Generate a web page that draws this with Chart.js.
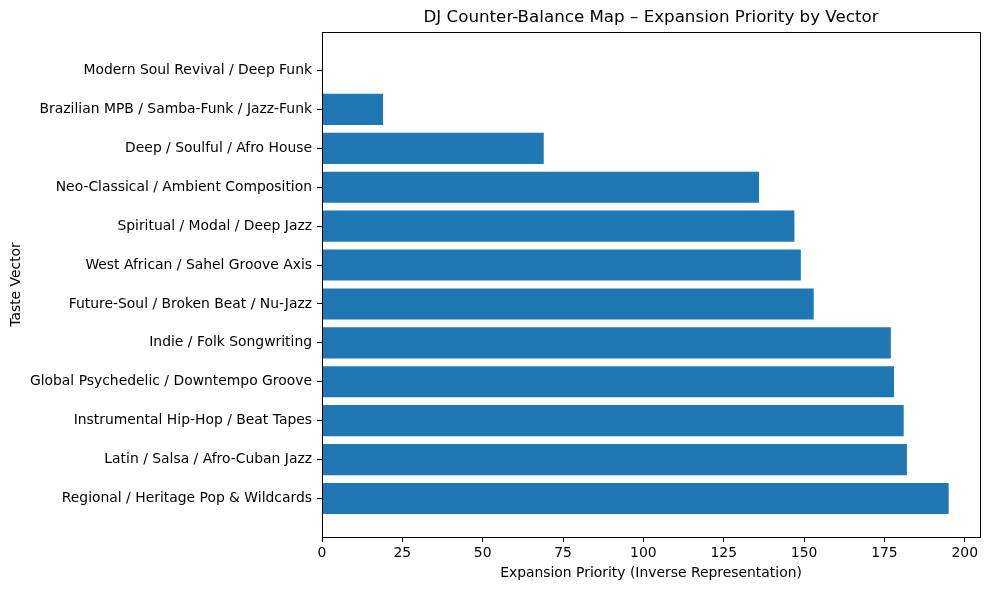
<!DOCTYPE html>
<html>
<head>
<meta charset="utf-8">
<script src="https://cdn.jsdelivr.net/npm/chart.js@4.4.1/dist/chart.umd.min.js"></script>
<style>
  html, body { margin: 0; padding: 0; background: #fff; }
  #wrap { width: 989px; height: 590px; }
</style>
</head>
<body>
<div id="wrap"><canvas id="chartCanvas" width="989" height="590"></canvas></div>
<script>
// categories, top to bottom as shown
const categories = [
  "Modern Soul Revival / Deep Funk",
  "Brazilian MPB / Samba-Funk / Jazz-Funk",
  "Deep / Soulful / Afro House",
  "Neo-Classical / Ambient Composition",
  "Spiritual / Modal / Deep Jazz",
  "West African / Sahel Groove Axis",
  "Future-Soul / Broken Beat / Nu-Jazz",
  "Indie / Folk Songwriting",
  "Global Psychedelic / Downtempo Groove",
  "Instrumental Hip-Hop / Beat Tapes",
  "Latin / Salsa / Afro-Cuban Jazz",
  "Regional / Heritage Pop & Wildcards"
];
const priority = [0, 19, 69, 136, 147, 149, 153, 177, 178, 181, 182, 195];
const xTicks = [0, 25, 50, 75, 100, 125, 150, 175, 200];

const titleText = "DJ Counter-Balance Map \u2013 Expansion Priority by Vector";
const FONT = "'DejaVu Sans', sans-serif";

// ===============================
// title over plot area + full frame
// ===============================
const frameAndTitle = {
  id: "frameAndTitle",
  afterDraw(c) {
    const { ctx, chartArea: a } = c;
    ctx.save();
    ctx.strokeStyle = "#000";
    ctx.lineWidth = 1;
    ctx.strokeRect(Math.round(a.left) + 0.5, Math.round(a.top) + 0.5,
      Math.round(a.right - a.left), Math.round(a.bottom - a.top));
    ctx.fillStyle = "#000";
    ctx.font = "16.7px " + FONT;
    ctx.textAlign = "center";
    ctx.textBaseline = "middle";
    ctx.fillText(titleText, (a.left + a.right) / 2, 18);
    ctx.restore();
  }
};

const canvas = document.getElementById("chartCanvas");

const chart = new Chart(canvas, {
  type: "bar",
  data: {
    datasets: [{
      data: priority.map((v, i) => ({ x: v, y: i })),
      backgroundColor: "#1f77b4",
      borderWidth: 0,
      barPercentage: 0.8,
      categoryPercentage: 1.0
    }]
  },
  options: {
    indexAxis: "y",
    responsive: false,
    animation: false,
    layout: { padding: { left: 0, right: 9, top: 32, bottom: 0 } },
    plugins: {
      legend: { display: false },
      title: { display: false },
      tooltip: { enabled: false }
    },
    scales: {
      x: {
        type: "linear",
        min: 0,
        max: 204.75,
        offset: false,
        afterBuildTicks: s => { s.ticks = xTicks.map(v => ({ value: v })); },
        afterFit: s => { s.height = 53; },
        grid: { drawOnChartArea: false, drawTicks: true, tickLength: 5, color: "#000", offset: false },
        border: { display: false },
        ticks: { color: "#000", font: { family: FONT, size: 13.9 }, padding: 3, maxRotation: 0 },
        title: {
          display: true,
          text: "Expansion Priority (Inverse Representation)",
          color: "#000",
          font: { family: FONT, size: 13.9 },
          padding: { top: 2, bottom: 8 }
        }
      },
      y: {
        type: "linear",
        reverse: true,
        offset: false,
        min: -0.99,
        max: categories.length - 1 + 0.99,
        afterBuildTicks: s => { s.ticks = categories.map((_, i) => ({ value: i })); },
        afterFit: s => { s.width = 322; },
        grid: { drawOnChartArea: false, drawTicks: true, tickLength: 5, color: "#000", offset: false },
        border: { display: false },
        ticks: {
          color: "#000",
          font: { family: FONT, size: 13.9 },
          padding: 5,
          autoSkip: false,
          callback: v => categories[v] ?? ""
        },
        title: {
          display: true,
          text: "Taste Vector",
          color: "#000",
          font: { family: FONT, size: 13.9 },
          padding: { top: 8, bottom: 0 }
        }
      }
    }
  },
  plugins: [frameAndTitle]
});
</script>
</body>
</html>
